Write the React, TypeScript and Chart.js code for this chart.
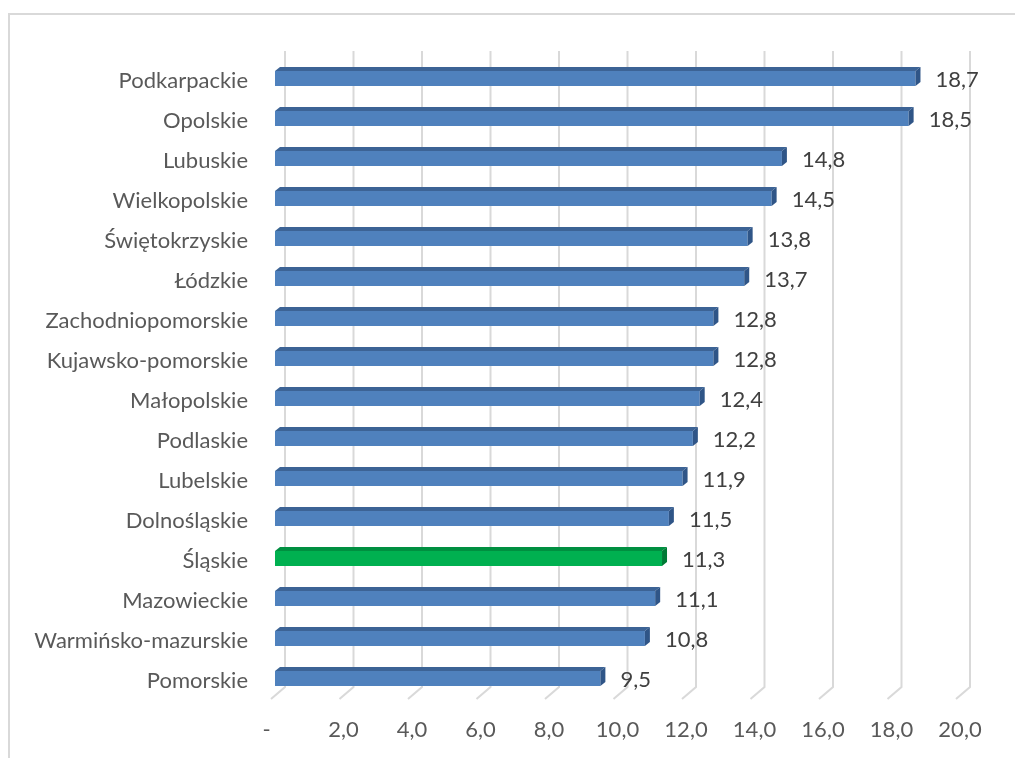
import { useEffect, useRef } from 'react';
import { Chart, registerables } from 'chart.js';

Chart.register(...registerables);

// Voivodeships, sorted from highest to lowest value
const categories = [
  'Podkarpackie',
  'Opolskie',
  'Lubuskie',
  'Wielkopolskie',
  'Świętokrzyskie',
  'Łódzkie',
  'Zachodniopomorskie',
  'Kujawsko-pomorskie',
  'Małopolskie',
  'Podlaskie',
  'Lubelskie',
  'Dolnośląskie',
  'Śląskie',
  'Mazowieckie',
  'Warmińsko-mazurskie',
  'Pomorskie',
];

const values = [18.7, 18.5, 14.8, 14.5, 13.8, 13.7, 12.8, 12.8, 12.4, 12.2, 11.9, 11.5, 11.3, 11.1, 10.8, 9.5];

const highlighted = 'Śląskie';

const axisMin = 0;
const axisMax = 20;
const axisStep = 2;

const FONT_FAMILY = 'Lato, "Open Sans", sans-serif';

// colours of the bar faces: front, top, side
const BLUE = { front: '#4f81bd', top: '#3c6395', side: '#2f5587' };
const GREEN = { front: '#00b050', top: '#008f40', side: '#007a36' };

// depth of each bar and offset of the back wall relative to the bar plane
const BAR_DX = 5;
const BAR_DY = 4;
const WALL_DX = 10;
const WALL_TOP = 7.5;
const WALL_BOTTOM = 11.5;
const FLOOR_DX = -4;

const formatNumber = (v: number) => v.toFixed(1).replace('.', ',');

const facesFor = (label: string) => (label === highlighted ? GREEN : BLUE);

const framePlugin = {
  id: 'frame',
  beforeDraw(chart: Chart) {
    const { ctx, width, height } = chart;
    ctx.save();
    ctx.fillStyle = '#ffffff';
    ctx.fillRect(0, 0, width, height);
    ctx.strokeStyle = '#d9d9d9';
    ctx.lineWidth = 2;
    ctx.beginPath();
    ctx.moveTo(width + 2, 14);
    ctx.lineTo(9, 14);
    ctx.lineTo(9, height + 2);
    ctx.stroke();
    ctx.restore();
  },
};

const wallPlugin = {
  id: 'wall',
  beforeDatasetsDraw(chart: Chart) {
    const { ctx, chartArea } = chart;
    const x = chart.scales.x;
    ctx.save();
    ctx.strokeStyle = '#d9d9d9';
    ctx.lineWidth = 2;
    x.ticks.forEach((t) => {
      const px = x.getPixelForValue(t.value);
      ctx.beginPath();
      ctx.moveTo(px + WALL_DX, chartArea.top - WALL_TOP);
      ctx.lineTo(px + WALL_DX, chartArea.bottom - WALL_BOTTOM);
      ctx.lineTo(px + FLOOR_DX, chartArea.bottom + 0.5);
      ctx.stroke();
    });
    ctx.restore();
  },
};

const barDepthPlugin = {
  id: 'barDepth',
  afterDatasetsDraw(chart: Chart) {
    const { ctx } = chart;
    const meta = chart.getDatasetMeta(0);
    ctx.save();
    meta.data.forEach((el: any, i: number) => {
      const { x: end, y, base, height } = el.getProps(['x', 'y', 'base', 'height'], true);
      const top = y - height / 2;
      const bottom = y + height / 2;
      const faces = facesFor(categories[i]);

      ctx.fillStyle = faces.top;
      ctx.beginPath();
      ctx.moveTo(base, top);
      ctx.lineTo(end, top);
      ctx.lineTo(end + BAR_DX, top - BAR_DY);
      ctx.lineTo(base + BAR_DX, top - BAR_DY);
      ctx.closePath();
      ctx.fill();

      ctx.fillStyle = faces.side;
      ctx.beginPath();
      ctx.moveTo(end, top);
      ctx.lineTo(end + BAR_DX, top - BAR_DY);
      ctx.lineTo(end + BAR_DX, bottom - BAR_DY);
      ctx.lineTo(end, bottom);
      ctx.closePath();
      ctx.fill();

      ctx.fillStyle = '#404040';
      ctx.font = `22px ${FONT_FAMILY}`;
      ctx.textAlign = 'left';
      ctx.textBaseline = 'middle';
      ctx.fillText(formatNumber(values[i]), end + 20, y + 1);
    });
    ctx.restore();
  },
};

export default function App() {
  const canvasRef = useRef<HTMLCanvasElement | null>(null);

  useEffect(() => {
    const canvas = canvasRef.current;
    if (!canvas) return;
    const chart = new Chart(canvas, {
      type: 'bar',
      data: {
        labels: categories,
        datasets: [
          {
            data: values,
            backgroundColor: categories.map((c) => facesFor(c).front),
            borderWidth: 0,
            categoryPercentage: 1,
            barPercentage: 0.375,
          },
        ],
      },
      options: {
        indexAxis: 'y',
        responsive: false,
        animation: false,
        devicePixelRatio: 1,
        layout: { padding: { top: 58.5, right: 55, left: 0, bottom: 0 } },
        plugins: {
          legend: { display: false },
          tooltip: { enabled: false },
        },
        scales: {
          x: {
            type: 'linear',
            min: axisMin,
            max: axisMax,
            grid: { display: false, drawTicks: false },
            border: { display: false },
            ticks: {
              stepSize: axisStep,
              padding: 18,
              color: '#595959',
              font: { family: FONT_FAMILY, size: 22 },
              callback: (v: any) => (Number(v) === 0 ? '-   ' : formatNumber(Number(v))),
            },
            afterFit(scale: any) {
              scale.height = 59.5;
            },
          },
          y: {
            type: 'category',
            grid: { display: false, drawTicks: false },
            border: { display: false },
            ticks: {
              autoSkip: false,
              padding: 27,
              labelOffset: 2,
              color: '#595959',
              font: { family: FONT_FAMILY, size: 22 },
            },
            afterFit(scale: any) {
              scale.width = 275;
            },
          },
        },
      },
      plugins: [framePlugin, wallPlugin, barDepthPlugin],
    });
    return () => chart.destroy();
  }, []);

  return (
    <canvas
      ref={canvasRef}
      width={1015}
      height={758}
      style={{ position: 'absolute', left: 0, top: 0, display: 'block' }}
    />
  );
}
